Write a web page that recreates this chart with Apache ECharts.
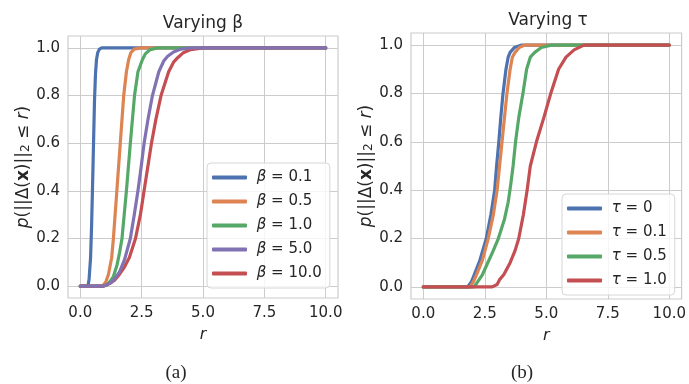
<!DOCTYPE html>
<html>
<head>
<meta charset="utf-8">
<script src="https://cdn.jsdelivr.net/npm/echarts@6/dist/echarts.min.js"></script>
<style>
  html, body { margin: 0; padding: 0; background: #fff; }
  #chart { width: 689px; height: 384px; }
</style>
</head>
<body>
<div id="chart"></div>
<script>
// tick labels
const xTicks = [0, 2.5, 5, 7.5, 10];
const yTicks = [0, 0.2, 0.4, 0.6, 0.8, 1.0];

// left panel: varying beta, [r, p]
const betaNames = ['β = 0.1', 'β = 0.5', 'β = 1.0', 'β = 5.0', 'β = 10.0'];
const beta01 = [[0,0],[0.3,0],[0.33,0.01],[0.36,0.03],[0.42,0.12],[0.46,0.25],[0.5,0.42],[0.54,0.6],[0.58,0.78],[0.62,0.89],[0.66,0.95],[0.71,0.98],[0.78,0.995],[0.87,1],[10,1]];
const beta05 = [[0,0],[0.85,0],[0.95,0.005],[1.05,0.02],[1.15,0.05],[1.28,0.12],[1.35,0.2],[1.49,0.4],[1.63,0.6],[1.77,0.8],[1.88,0.9],[1.97,0.95],[2.06,0.98],[2.2,0.995],[2.46,1],[10,1]];
const beta10 = [[0,0],[0.95,0],[1.05,0.004],[1.15,0.012],[1.25,0.025],[1.35,0.04],[1.5,0.09],[1.6,0.14],[1.7,0.2],[1.88,0.4],[2.04,0.6],[2.21,0.8],[2.35,0.9],[2.53,0.95],[2.65,0.975],[2.85,0.993],[3.15,1],[10,1]];
const beta50 = [[0,0],[0.95,0],[1.1,0.006],[1.25,0.015],[1.4,0.03],[1.6,0.06],[1.8,0.11],[2.04,0.2],[2.2,0.3],[2.35,0.4],[2.48,0.5],[2.6,0.6],[2.76,0.7],[2.94,0.8],[3.2,0.9],[3.4,0.945],[3.56,0.965],[3.8,0.983],[4.1,0.995],[4.5,1],[10,1]];
const beta100 = [[0,0],[0.95,0],[1.1,0.006],[1.25,0.014],[1.4,0.025],[1.6,0.05],[1.8,0.08],[2.0,0.12],[2.25,0.2],[2.45,0.3],[2.6,0.4],[2.75,0.5],[2.9,0.6],[3.08,0.7],[3.29,0.8],[3.6,0.9],[3.8,0.94],[3.98,0.96],[4.2,0.98],[4.5,0.993],[5.0,1],[10,1]];

// right panel: varying tau
const tauNames = ['τ = 0', 'τ = 0.1', 'τ = 0.5', 'τ = 1.0'];
const tau0 = [[0,0],[1.8,0],[1.95,0.02],[2.07,0.05],[2.3,0.11],[2.56,0.2],[2.75,0.3],[2.9,0.4],[2.98,0.5],[3.07,0.6],[3.15,0.7],[3.24,0.8],[3.36,0.9],[3.45,0.95],[3.53,0.97],[3.7,0.99],[4.0,1],[10,1]];
const tau01 = [[0,0],[1.9,0],[2.03,0.02],[2.16,0.05],[2.4,0.11],[2.64,0.2],[2.85,0.3],[3.0,0.4],[3.1,0.5],[3.2,0.6],[3.3,0.7],[3.4,0.8],[3.53,0.9],[3.62,0.95],[3.73,0.97],[3.9,0.99],[4.13,1],[10,1]];
const tau05 = [[0,0],[2.07,0],[2.2,0.02],[2.4,0.05],[2.62,0.1],[2.8,0.14],[3.05,0.2],[3.3,0.28],[3.45,0.35],[3.55,0.42],[3.65,0.5],[3.75,0.6],[3.88,0.7],[4.05,0.8],[4.2,0.9],[4.35,0.95],[4.53,0.97],[4.8,0.99],[5.2,1],[10,1]];
const tau10 = [[0,0],[2.8,0],[3.0,0.01],[3.1,0.03],[3.27,0.05],[3.53,0.1],[3.73,0.15],[3.88,0.2],[4.07,0.3],[4.22,0.4],[4.35,0.5],[4.6,0.6],[4.9,0.7],[5.18,0.8],[5.5,0.9],[5.8,0.95],[6.13,0.98],[6.53,1],[10,1]];

const BLUE = '#4C72B0', ORANGE = '#DD8452', GREEN = '#55A868', RED = '#C44E52', PURPLE = '#8172B3';
const TEXT = '#262626', GRIDC = '#cccccc';
const FONT = 'DejaVu Sans';

function xAxis(idx) {
  return {
    gridIndex: idx, type: 'value', min: -0.5, max: 10.5,
    name: 'r', nameLocation: 'middle', nameGap: 29,
    nameTextStyle: { fontFamily: FONT, fontSize: 16, fontStyle: 'italic', color: TEXT },
    axisLine: { show: false }, axisTick: { show: false, customValues: xTicks },
    axisLabel: { customValues: xTicks, margin: 8, fontFamily: FONT, fontSize: 15, color: TEXT,
      formatter: v => v.toFixed(1) },
    splitLine: { show: true, lineStyle: { color: GRIDC, width: 1 } }
  };
}
function yAxis(idx) {
  return {
    gridIndex: idx, type: 'value', min: -0.05, max: 1.05,
    name: '{i|p}(||Δ({b|x})||{s|2} ≤ {i|r})', nameLocation: 'middle', nameGap: 35, nameRotate: 90,
    nameTextStyle: { fontFamily: FONT, fontSize: 17, color: TEXT,
      rich: {
        i: { fontFamily: FONT, fontSize: 17, fontStyle: 'italic', color: TEXT },
        b: { fontFamily: FONT, fontSize: 17, fontWeight: 'bold', color: TEXT },
        s: { fontFamily: FONT, fontSize: 12, color: TEXT, verticalAlign: 'bottom', lineHeight: 12 }
      } },
    axisLine: { show: false }, axisTick: { show: false, customValues: yTicks },
    axisLabel: { customValues: yTicks, margin: 8, fontFamily: FONT, fontSize: 15, color: TEXT,
      formatter: v => v.toFixed(1) },
    splitLine: { show: true, lineStyle: { color: GRIDC, width: 1 } }
  };
}
function line(name, data, color, idx) {
  return {
    name, type: 'line', data, xAxisIndex: idx, yAxisIndex: idx,
    showSymbol: false, smooth: false, sampling: null,
    lineStyle: { color, width: 3.2, join: 'round', cap: 'round' }, itemStyle: { color }
  };
}
function legend(names, left, top, idx) {
  return {
    data: names, orient: 'vertical', left, top,
    padding: [6, 8, 6, 5], itemGap: 7, itemWidth: 35, itemHeight: 4, icon: 'roundRect',
    backgroundColor: 'rgba(255,255,255,0.8)', borderColor: '#d6d6d6', borderWidth: 1, borderRadius: 4,
    formatter: n => ' {m|' + n[0] + '}' + n.slice(1),
    textStyle: { fontFamily: FONT, fontSize: 15, color: TEXT, lineHeight: 17,
      rich: { m: { fontFamily: FONT, fontSize: 15, fontStyle: 'italic', color: TEXT } } }
  };
}

const chart = echarts.init(document.getElementById('chart'));
chart.setOption({
  animation: false,
  backgroundColor: '#fff',
  title: [
    { text: 'Varying β', left: 203, top: 15, textAlign: 'center', padding: 0,
      textStyle: { fontFamily: FONT, fontSize: 17, fontWeight: 'normal', color: TEXT } },
    { text: 'Varying τ', left: 548, top: 12, textAlign: 'center', padding: 0,
      textStyle: { fontFamily: FONT, fontSize: 17, fontWeight: 'normal', color: TEXT } },
    { text: '(a)', left: 176, top: 364, textAlign: 'center', padding: 0,
      textStyle: { fontFamily: 'Liberation Serif', fontSize: 19, fontWeight: 'normal', color: TEXT } },
    { text: '(b)', left: 522, top: 364, textAlign: 'center', padding: 0,
      textStyle: { fontFamily: 'Liberation Serif', fontSize: 19, fontWeight: 'normal', color: TEXT } }
  ],
  grid: [
    { left: 68, top: 36, width: 270, height: 262, show: true, borderColor: GRIDC, borderWidth: 1.2 },
    { left: 411, top: 33, width: 274, height: 266, show: true, borderColor: GRIDC, borderWidth: 1.2 }
  ],
  xAxis: [xAxis(0), xAxis(1)],
  yAxis: [yAxis(0), yAxis(1)],
  legend: [legend(betaNames, 207, 163, 0), legend(tauNames, 562, 194, 1)],
  series: [
    line(betaNames[0], beta01, BLUE, 0),
    line(betaNames[1], beta05, ORANGE, 0),
    line(betaNames[2], beta10, GREEN, 0),
    line(betaNames[4], beta100, RED, 0),
    // purple sits on top of red in the reference
    line(betaNames[3], beta50, PURPLE, 0),
    line(tauNames[0], tau0, BLUE, 1),
    line(tauNames[1], tau01, ORANGE, 1),
    line(tauNames[2], tau05, GREEN, 1),
    line(tauNames[3], tau10, RED, 1)
  ]
});
</script>
</body>
</html>
